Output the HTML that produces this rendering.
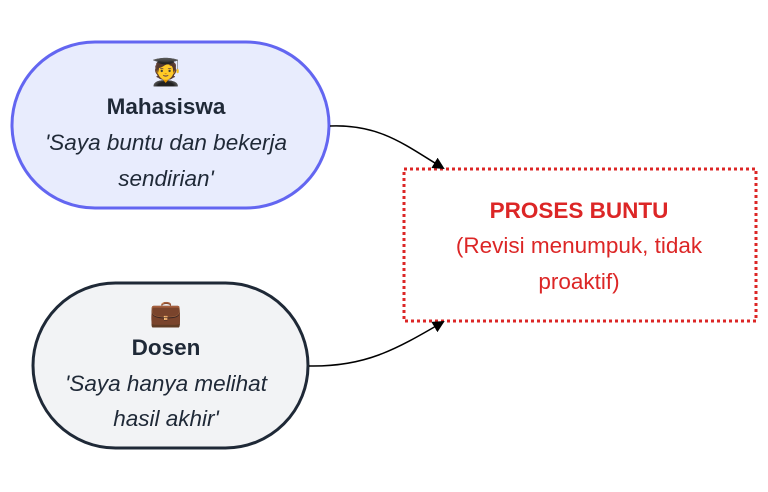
<!DOCTYPE html>
<html><head><meta charset="utf-8"><style>
html,body{margin:0;padding:0;background:#fff;}
svg{display:block;}
text{font-family:"Liberation Sans",sans-serif;}
</style></head><body>
<svg width="768" height="492" viewBox="0 0 768 492" xmlns="http://www.w3.org/2000/svg">
<defs><marker id="a" markerWidth="12" markerHeight="12" refX="10" refY="6" orient="auto" markerUnits="userSpaceOnUse"><path d="M0,0 L12,6 L0,12 z" fill="#000"/></marker></defs>
<rect x="12" y="42" width="317" height="166" rx="83" fill="#e8ecfd" stroke="#6366f1" stroke-width="3"/>
<rect x="33" y="283" width="275" height="165" rx="82.5" fill="#f2f3f5" stroke="#1f2937" stroke-width="3"/>
<rect x="404" y="169" width="352" height="152" fill="#fff" stroke="#dc2626" stroke-width="3" stroke-dasharray="3,3"/>
<path d="M330,126 C380,124 405,145 443,168" fill="none" stroke="#000" stroke-width="1.5" marker-end="url(#a)"/>
<path d="M309,366 C365,367 395,350 443,322" fill="none" stroke="#000" stroke-width="1.5" marker-end="url(#a)"/>
<g text-anchor="middle" fill="#1f2937" font-size="22.5">
<text x="166" y="81" font-size="26">🧑‍🎓</text>
<text x="166" y="114" font-weight="bold">Mahasiswa</text>
<text x="166" y="150" font-style="italic">'Saya buntu dan bekerja</text>
<text x="166" y="186" font-style="italic">sendirian'</text>
<text x="166" y="322" font-size="26">💼</text>
<text x="166" y="355" font-weight="bold">Dosen</text>
<text x="166" y="391" font-style="italic">'Saya hanya melihat</text>
<text x="166" y="426" font-style="italic">hasil akhir'</text>
</g>
<g text-anchor="middle" fill="#dc2626" font-size="22.5">
<text x="579" y="218" font-weight="bold">PROSES BUNTU</text>
<text x="579" y="253">(Revisi menumpuk, tidak</text>
<text x="579" y="289">proaktif)</text>
</g>
</svg>
</body></html>
